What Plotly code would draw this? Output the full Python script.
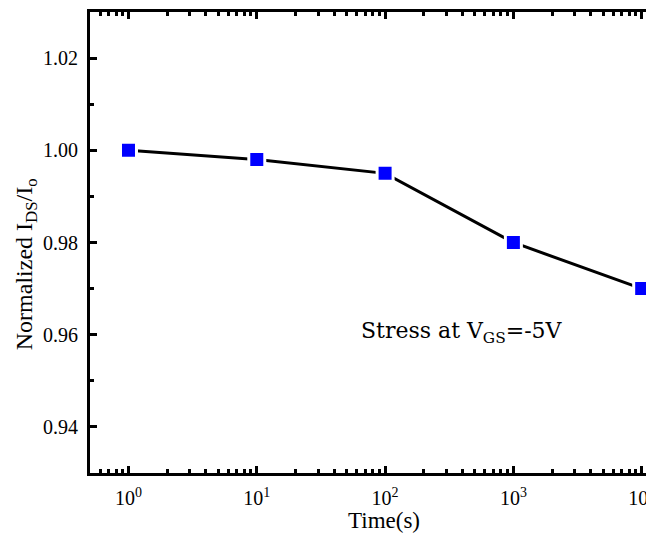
import plotly.graph_objects as go

time_s = [1, 10, 100, 1000, 10000]
norm_ids = [1.000, 0.998, 0.995, 0.980, 0.970]
x_tickvals = [1, 10, 100, 1000, 10000]
x_ticktext = ["10<sup>0</sup>", "10<sup>1</sup>", "10<sup>2</sup>", "10<sup>3</sup>", "10<sup>4</sup>"]
y_tickvals = [0.94, 0.96, 0.98, 1.00, 1.02]
y_ticktext = ["0.94", "0.96", "0.98", "1.00", "1.02"]
x_title = "Time(s)"
y_title = "Normalized I<sub>DS</sub>/I<sub>o</sub>"
note_text = "Stress at V<sub>GS</sub>=-5V"

font_family = "Liberation Serif, Times New Roman, serif"

fig = go.Figure()
fig.add_trace(go.Scatter(
    x=time_s, y=norm_ids, mode="lines+markers",
    line=dict(color="black", width=3),
    marker=dict(symbol="square", size=16, color="#0000ff",
                line=dict(color="white", width=3)),
    showlegend=False,
    cliponaxis=False,
))

fig.add_annotation(
    x=2.6, y=0.9605, xref="x", yref="y",
    text=note_text, showarrow=False,
    font=dict(family="DejaVu Serif, Liberation Serif, serif", size=22, color="black"),
)
# axis titles (positioned as in the original, whose right part is cropped)
fig.add_annotation(
    x=0.521, y=-0.102, xref="paper", yref="paper",
    xanchor="center", yanchor="middle",
    text=x_title, showarrow=False,
    font=dict(family=font_family, size=23, color="black"),
)
fig.add_annotation(
    x=-0.113, y=0.4534, xref="paper", yref="paper",
    xanchor="center", yanchor="middle", textangle=-90,
    text=y_title, showarrow=False,
    font=dict(family=font_family, size=24, color="black"),
)

fig.update_layout(
    width=646, height=526,
    margin=dict(l=82, r=0, t=4, b=61),
    paper_bgcolor="white", plot_bgcolor="white",
    font=dict(family=font_family, size=20, color="black"),
    xaxis=dict(
        type="log", range=[-0.3, 4.096],
        tickvals=x_tickvals, ticktext=x_ticktext,
        ticks="inside", ticklen=7, tickwidth=2.5, tickcolor="black",
        showline=True, linecolor="black", linewidth=3, mirror="ticks",
        showgrid=False, zeroline=False,
        minor=dict(ticks="inside", ticklen=4, tickwidth=2.5, tickcolor="black",
                   dtick="D1", showgrid=False),
        tickfont=dict(size=20),
        ticklabelstandoff=5,
        ticklabeloverflow="allow",
    ),
    yaxis=dict(
        range=[0.93, 1.03],
        tickvals=y_tickvals, ticktext=y_ticktext,
        ticks="inside", ticklen=7, tickwidth=2.5, tickcolor="black",
        showline=True, linecolor="black", linewidth=3, mirror=False,
        showgrid=False, zeroline=False,
        minor=dict(ticks="inside", ticklen=4, tickwidth=2.5, tickcolor="black",
                   tickvals=[0.95, 0.97, 0.99, 1.01], showgrid=False),
        tickfont=dict(size=20),
        ticklabelstandoff=5,
    ),
)

fig.write_html("out.html")
